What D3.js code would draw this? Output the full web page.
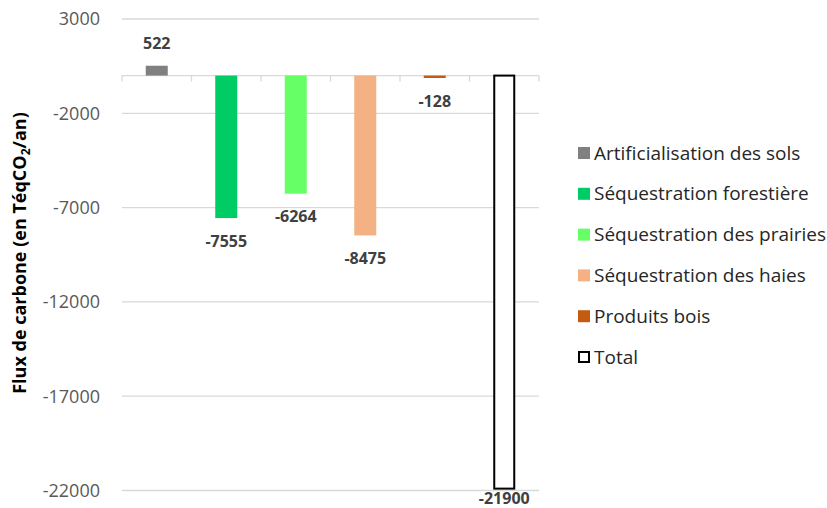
<!DOCTYPE html>
<html><head><meta charset="utf-8">
<script src="https://cdn.jsdelivr.net/npm/d3@7"></script>
<style>body{margin:0;background:#fff}</style>
</head><body>
<svg id="c" width="827" height="508"></svg>
<script>
const categories = ["Artificialisation des sols","Séquestration forestière","Séquestration des prairies","Séquestration des haies","Produits bois","Total"];
const values = [522, -7555, -6264, -8475, -128, -21900];
const colors = ["#808080","#00CC66","#66FF66","#F4B183","#C55A11","#FFFFFF"];
const yTicks = [3000, -2000, -7000, -12000, -17000, -22000];

const FONT = "'Open Sans', Lato, sans-serif";
const svg = d3.select("#c");
const x = d3.scaleBand().domain(categories).range([122, 539]).paddingInner(0).paddingOuter(0);
const y = d3.scaleLinear().domain([-22000, 3000]).range([490.5, 19]);
const bw = 22;

// gridlines
svg.append("g").selectAll("line").data(yTicks).join("line")
  .attr("x1", 122).attr("x2", 539)
  .attr("y1", d => y(d)).attr("y2", d => y(d))
  .attr("stroke", "#d9d9d9").attr("stroke-width", 1.3);

// y tick labels
svg.append("g").selectAll("text").data(yTicks).join("text")
  .attr("x", 100).attr("y", d => y(d)).attr("dy", "0.35em")
  .attr("text-anchor", "end").attr("font-family", FONT).attr("font-size", 18)
  .attr("fill", "#595959").text(d => d);

// zero axis with tick marks
const y0 = y(0);
svg.append("line").attr("x1", 122).attr("x2", 539).attr("y1", y0).attr("y2", y0)
  .attr("stroke", "#d9d9d9").attr("stroke-width", 1.3);
const bounds = categories.map(c => x(c)).concat([x.range()[1]]);
svg.append("g").selectAll("line").data(bounds).join("line")
  .attr("x1", d => d).attr("x2", d => d).attr("y1", y0).attr("y2", y0 + 6)
  .attr("stroke", "#d9d9d9").attr("stroke-width", 1.3);

// bars
const data = categories.map((c, i) => ({c, v: values[i], col: colors[i], total: c === "Total"}));
svg.append("g").selectAll("rect").data(data).join("rect")
  .attr("x", d => x(d.c) + x.bandwidth()/2 - bw/2 + (d.total ? 1 : 0))
  .attr("width", d => d.total ? bw - 2 : bw)
  .attr("y", d => Math.min(y(d.v), y0))
  .attr("height", d => Math.abs(y(d.v) - y0))
  .attr("fill", d => d.col)
  .attr("stroke", d => d.total ? "#000" : "none")
  .attr("stroke-width", 2);

// data labels
svg.append("g").selectAll("text").data(data).join("text")
  .attr("x", d => x(d.c) + x.bandwidth()/2)
  .attr("y", d => d.total ? y(d.v) + 9.5 : (d.v >= 0 ? y(d.v) - 22 : y(d.v) + 23))
  .attr("dy", "0.35em").attr("text-anchor", "middle")
  .attr("font-family", FONT).attr("font-size", 16).attr("font-weight", "bold")
  .attr("fill", "#404040").text(d => d.v);

// y axis title
const t = svg.append("text")
  .attr("transform", "translate(26,253) rotate(-90)")
  .attr("text-anchor", "middle").attr("font-family", FONT).attr("font-size", 18)
  .attr("font-weight", "bold").attr("fill", "#000");
t.append("tspan").text("Flux de carbone (en TéqCO");
t.append("tspan").attr("font-size", 12).attr("dy", 4).text("2");
t.append("tspan").attr("dy", -4).text("/an)");

// legend
const lg = svg.append("g").selectAll("g").data(data).join("g")
  .attr("transform", (d, i) => `translate(578,${153 + i * 40.8})`);
lg.append("rect").attr("x", d => d.total ? 1 : 0).attr("y", d => d.total ? -5 : -6)
  .attr("width", d => d.total ? 10 : 12).attr("height", d => d.total ? 10 : 12)
  .attr("fill", d => d.col).attr("stroke", d => d.total ? "#000" : "none").attr("stroke-width", 2);
lg.append("text").attr("x", 16).attr("dy", "0.35em")
  .attr("font-family", FONT).attr("font-size", 19).attr("fill", "#262626")
  .text(d => d.c);
</script>
</body></html>
